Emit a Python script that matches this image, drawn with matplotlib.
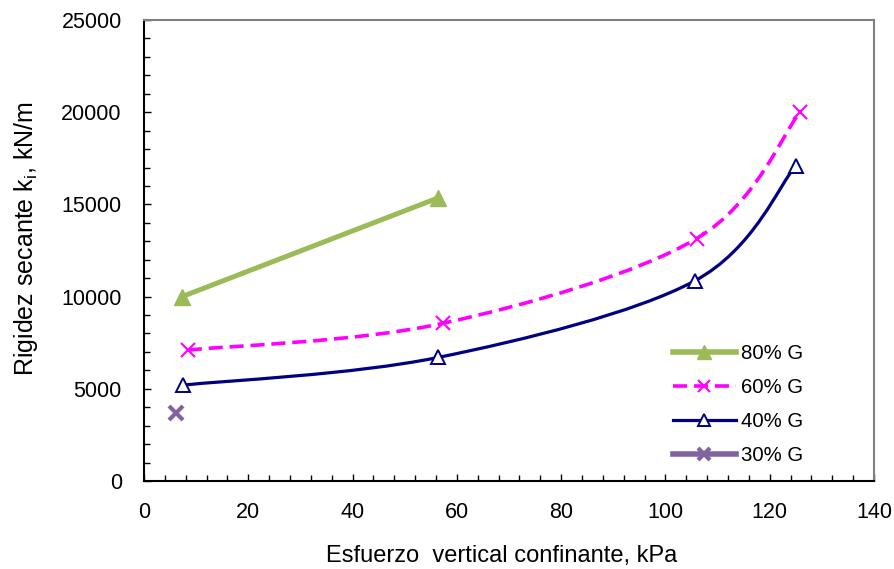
import numpy as np
import matplotlib
matplotlib.use("Agg")
import matplotlib.pyplot as plt
from matplotlib.path import Path
from matplotlib.patches import PathPatch
from matplotlib.lines import Line2D
from matplotlib.ticker import MultipleLocator

# values
x80 = [7.3, 56.4]
y80 = [10000, 15350]

x60 = [8.4, 57.3, 106.0, 125.8]
y60 = [7100, 8550, 13150, 20000]

x40 = [7.5, 56.4, 105.6, 125.0]
y40 = [5200, 6700, 10850, 17100]

x30 = [6.1]
y30 = [3700]

labels = ["80% G", "60% G", "40% G", "30% G"]


def smoothPath(xs, ys):
    # excel-like smoothed line: bezier segments, control points at 1/6
    pts = np.column_stack([xs, ys]).astype(float)
    n = len(pts)
    verts = [pts[0]]
    codes = [Path.MOVETO]
    for i in range(n - 1):
        p0 = pts[max(i - 1, 0)]
        p1 = pts[i]
        p2 = pts[i + 1]
        p3 = pts[min(i + 2, n - 1)]
        c1 = p1 + (p2 - p0) / 6.0
        c2 = p2 - (p3 - p1) / 6.0
        verts += [c1, c2, p2]
        codes += [Path.CURVE4] * 3
    return Path(verts, codes)


def main():
    plt.rcParams['font.family'] = ['Liberation Sans', 'DejaVu Sans']
    plt.rcParams['mathtext.fontset'] = 'custom'
    plt.rcParams['mathtext.rm'] = 'Liberation Sans'

    fig = plt.figure(figsize=(8.94, 5.69), dpi=100)
    ax = fig.add_axes([144 / 894, 1 - 481 / 569, 730 / 894, 461 / 569])

    green = '#9BBB59'
    magenta = '#FF00FF'
    navy = '#000080'
    purple = '#8064A2'
    dash = (0, (3.9, 1.9))

    # 80% G - straight line
    ax.plot(x80, y80, color=green, lw=3.6, marker='^', ms=11,
            mfc=green, mec=green, zorder=3)

    # 60% G - smoothed dashed
    ax.add_patch(PathPatch(smoothPath(x60, y60), fill=False, ec=magenta,
                           lw=2.6, linestyle=dash, zorder=2))
    ax.plot(x60, y60, linestyle='none', marker='x', ms=10, mew=1.5,
            color=magenta, zorder=3)

    # 40% G - smoothed solid
    ax.add_patch(PathPatch(smoothPath(x40, y40), fill=False, ec=navy,
                           lw=2.3, zorder=2))
    ax.plot(x40, y40, linestyle='none', marker='^', ms=10, mew=1.4,
            mfc='white', mec=navy, zorder=3)

    # 30% G - single point
    ax.plot(x30, y30, linestyle='none', marker='x', ms=10, mew=3,
            color=purple, zorder=3)

    ax.set_xlim(0, 140)
    ax.set_ylim(0, 25000)
    ax.xaxis.set_major_locator(MultipleLocator(20))
    ax.xaxis.set_minor_locator(MultipleLocator(4))
    ax.yaxis.set_major_locator(MultipleLocator(5000))
    ax.yaxis.set_minor_locator(MultipleLocator(1000))
    ax.tick_params(which='both', direction='in', top=False, right=False,
                   labelsize=15.5, width=1, color='black')
    ax.tick_params(which='major', length=5)
    ax.tick_params(which='minor', length=4)
    ax.tick_params(axis='x', pad=15)
    ax.tick_params(axis='y', pad=16)

    for side in ['left', 'bottom']:
        ax.spines[side].set_color('black')
        ax.spines[side].set_linewidth(1.5)
    for side in ['top', 'right']:
        ax.spines[side].set_color('#808080')
        ax.spines[side].set_linewidth(1.5)

    fig.text(502 / 894, 1 - 556 / 569, "Esfuerzo  vertical confinante, kPa",
             fontsize=17, ha='center', va='center')
    fig.text(26 / 894, 1 - 239 / 569,
             r"Rigidez secante k$_\mathregular{i}$, kN/m",
             fontsize=18, ha='center', va='center', rotation=90)

    handles = [
        Line2D([], [], color=green, lw=4, marker='^', ms=10, mfc=green, mec=green),
        Line2D([], [], color=magenta, lw=2.6, linestyle=dash,
               marker='x', ms=9, mew=1.5),
        Line2D([], [], color=navy, lw=2.3, marker='^', ms=9, mew=1.4,
               mfc='white', mec=navy),
        Line2D([], [], color=purple, lw=4, marker='x', ms=9, mew=3),
    ]
    ax.legend(handles, labels, loc='upper left',
              bbox_to_anchor=(0.725, 0.297), frameon=False, fontsize=14.7,
              handlelength=3.05, handletextpad=0.25, labelspacing=0.73,
              borderpad=0, borderaxespad=0)

    fig.savefig("out.png", dpi=100)


if __name__ == "__main__":
    main()
